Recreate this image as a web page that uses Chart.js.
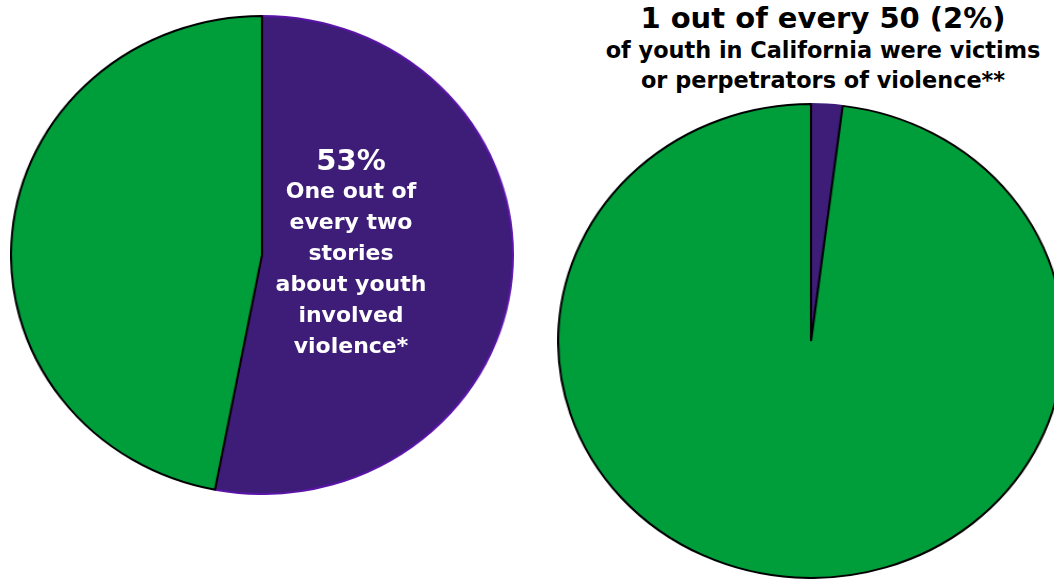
<!DOCTYPE html>
<html>
<head>
<meta charset="utf-8">
<script src="https://cdn.jsdelivr.net/npm/chart.js@4.4.1/dist/chart.umd.min.js"></script>
<style>
  html, body { margin:0; padding:0; background:#fff; width:1054px; height:581px; overflow:hidden; }
  .pie { position:absolute; }
  .lbl { position:absolute; font-family:"DejaVu Sans", sans-serif; font-weight:bold; text-align:center; white-space:nowrap; }
</style>
</head>
<body>
<div id="leftWrap" class="pie" style="left:22px; top:15px; width:480px; height:480px; transform:scaleX(1.05); transform-origin:50% 50%;">
  <canvas id="left"></canvas>
</div>
<div id="rightWrap" class="pie" style="left:573px; top:103px; width:476px; height:476px; transform:scaleX(1.067); transform-origin:50% 50%;">
  <canvas id="right"></canvas>
</div>

<div class="lbl" style="left:251px; width:200px; top:143px; color:#fff; font-size:29px; line-height:34px;">53%</div>
<div class="lbl" style="left:251px; width:200px; top:175px; color:#fff; font-size:22px; line-height:31px;">One out of<br>every two<br>stories<br>about youth<br>involved<br>violence*</div>

<div class="lbl" style="left:573px; width:500px; top:0px; color:#000; font-size:29px; line-height:37px;">1 out of every 50 (2%)</div>
<div class="lbl" style="left:573px; width:500px; top:35px; color:#000; font-size:22.4px; line-height:30px;">of youth in California were victims<br>or perpetrators of violence**</div>

<script>
const leftCategories = ["Stories about youth involving violence", "Other stories"];
const leftValues = [53, 47];
const rightCategories = ["Youth victims or perpetrators of violence", "Other youth"];
const rightValues = [2, 98];

const purple = "#3e1d78";
const green = "#009e3b";

function makePie(id, labels, values, borders) {
  new Chart(document.getElementById(id), {
    type: "pie",
    data: {
      labels: labels,
      datasets: [{
        data: values,
        backgroundColor: [purple, green],
        borderColor: borders,
        borderWidth: 2
      }]
    },
    options: {
      responsive: true,
      maintainAspectRatio: false,
      animation: false,
      layout: { padding: 0 },
      plugins: { legend: { display: false }, tooltip: { enabled: false }, title: { display: false } }
    }
  });
}

makePie("left", leftCategories, leftValues, ["#5a14a8", "#000000"]);
makePie("right", rightCategories, rightValues, [purple, "#000000"]);
</script>
</body>
</html>
